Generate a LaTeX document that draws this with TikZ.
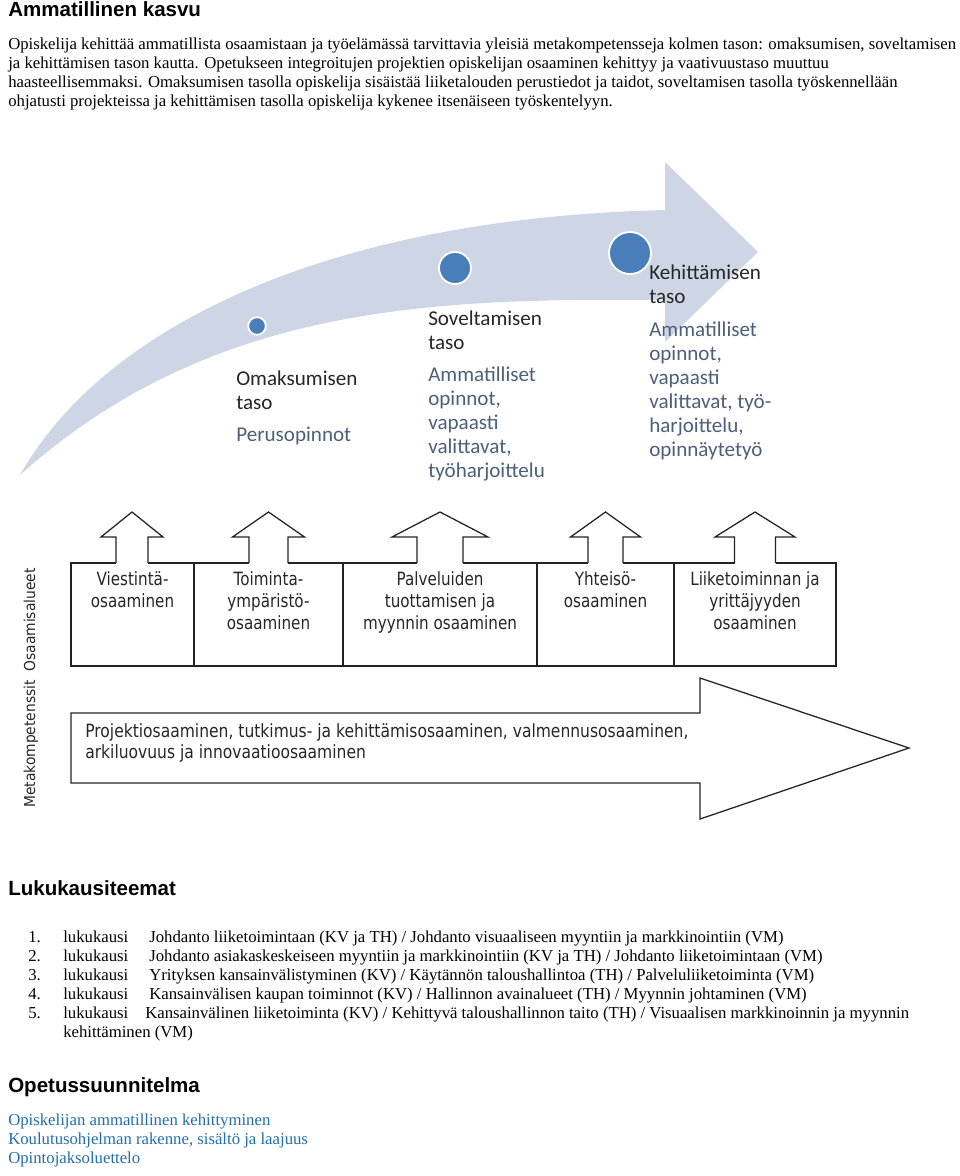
\documentclass[tikz,border=0pt]{standalone}
\usepackage{fontspec}
\setmainfont{Liberation Serif}
\newfontfamily\headfont{Liberation Sans}
\newfontfamily\calfont{Carlito}
\newfontfamily\boxfont{DejaVu Sans}[FakeStretch=0.83]
\newfontfamily\metafont{DejaVu Sans}[FakeStretch=0.85]
\newfontfamily\sidefont{DejaVu Sans}[FakeStretch=0.92]
\definecolor{arrowfill}{RGB}{206,214,230}
\definecolor{dotblue}{RGB}{74,126,187}
\definecolor{titlegray}{RGB}{38,38,38}
\definecolor{subgray}{RGB}{78,95,122}
\definecolor{linkblue}{RGB}{35,110,170}
\definecolor{linegray}{RGB}{35,35,35}

\tikzset{
  body/.style={anchor=base west, inner sep=0pt, font=\fontsize{11.9}{13.5}\selectfont},
  head/.style={anchor=base west, inner sep=0pt, font=\headfont\bfseries\fontsize{14.6}{17}\selectfont},
  link/.style={body, text=linkblue},
  lvl/.style={anchor=north west, inner sep=0pt, align=left, text=titlegray,
    font=\calfont\fontsize{15}{17.07}\selectfont},
  lvlsub/.style={lvl, text=subgray},
  dot/.style={circle, fill=dotblue, draw=white, line width=1.3pt, inner sep=0pt},
  area/.style={anchor=north, inner sep=0pt, align=center, text=titlegray,
    font=\boxfont\fontsize{13}{15.6}\selectfont},
  outline/.style={draw=linegray, line width=0.9pt, line join=miter},
}

\begin{document}
\begin{tikzpicture}[x=0.25mm, y=-0.25mm]
    \useasboundingbox (0,0) rectangle (960,1176);

    \node [head] (h1) at (8,16) {Ammatillinen kasvu};
    \node [body] (p1) at (8,49) {Opiskelija kehittää ammatillista osaamistaan ja työelämässä tarvittavia yleisiä metakompetensseja kolmen tason: omaksumisen, soveltamisen};
    \node [body] (p2) at (8,68) {ja kehittämisen tason kautta. Opetukseen integroitujen projektien opiskelijan osaaminen kehittyy ja vaativuustaso muuttuu};
    \node [body] (p3) at (8,87) {haasteellisemmaksi. Omaksumisen tasolla opiskelija sisäistää liiketalouden perustiedot ja taidot, soveltamisen tasolla työskennellään};
    \node [body] (p4) at (8,106) {ohjatusti projekteissa ja kehittämisen tasolla opiskelija kykenee itsenäiseen työskentelyyn.};

    \fill [arrowfill] (20,475) .. controls (105,325) and (330,218) .. (665,210)
      -- (665,162) -- (758,252) -- (665,342) -- (665,300)
      .. controls (430,298) and (210,305) .. (20,475) -- cycle;
    \node [dot, minimum size=4.4mm] (d1) at (257,326) {};
    \node [dot, minimum size=8mm] (d2) at (455,268) {};
    \node [dot, minimum size=10.5mm] (d3) at (630,253) {};

    \node [lvl] (t1) at (236,371) {Omaksumisen\\taso};
    \node [lvlsub] (s1) at (236,427) {Perusopinnot};
    \node [lvl] (t2) at (428,311) {Soveltamisen\\taso};
    \node [lvlsub] (s2) at (428,367) {Ammatilliset\\opinnot,\\vapaasti\\valittavat,\\työharjoittelu};
    \node [lvl] (t3) at (649,265) {Kehittämisen\\taso};
    \node [lvlsub] (s3) at (649,322) {Ammatilliset\\opinnot,\\vapaasti\\valittavat, työ-\\harjoittelu,\\opinnäytetyö};

    \foreach \c/\h/\s in {132/31/16, 268.5/36/19.5, 440/48/23, 605.5/35/17.5, 755/40/20.5}
      \draw [outline] (\c-\s,563) -- (\c-\s,537) -- (\c-\h,537) -- (\c,512)
        -- (\c+\h,537) -- (\c+\s,537) -- (\c+\s,563);
    \draw [outline] (116,563) -- (71,563) -- (71,666) -- (836,666) -- (836,563) -- (775.5,563);
    \draw [outline] (148,563) -- (249,563) (288,563) -- (417,563) (463,563) -- (588,563) (623,563) -- (734.5,563);
    \foreach \x in {194,343,537,674}
      \draw [outline] (\x,563) -- (\x,666);

    \node [area] (a1) at (132.5,571) {Viestintä-\\osaaminen};
    \node [area] (a2) at (268.5,571) {Toiminta-\\ympäristö-\\osaaminen};
    \node [area] (a3) at (440,571) {Palveluiden\\tuottamisen ja\\myynnin osaaminen};
    \node [area] (a4) at (605.5,571) {Yhteisö-\\osaaminen};
    \node [area] (a5) at (755,571) {Liiketoiminnan ja\\yrittäjyyden\\osaaminen};

    \draw [outline] (71,713) -- (700,713) -- (700,678) -- (909,748) -- (700,819) -- (700,783) -- (71,783) -- cycle;
    \node [area, anchor=north west, align=left, font=\metafont\fontsize{13}{15.2}\selectfont] (meta) at (85,723)
      {Projektiosaaminen, tutkimus- ja kehittämisosaaminen, valmennusosaaminen,\\arkiluovuus ja innovaatioosaaminen};

    \node [rotate=90, inner sep=0pt, text=titlegray, font=\sidefont\fontsize{10.7}{12}\selectfont] (side) at (31,688)
      {Metakompetenssit\ \ Osaamisalueet};

    \node [head] (h2) at (8,895) {Lukukausiteemat};
    \node [body] (n1) at (28,942) {1.};
    \node [body] (l1) at (63,942) {lukukausi};
    \node [body] (k1) at (149,942) {Johdanto liiketoimintaan (KV ja TH) / Johdanto visuaaliseen myyntiin ja markkinointiin (VM)};
    \node [body] (n2) at (28,961) {2.};
    \node [body] (l2) at (63,961) {lukukausi};
    \node [body] (k2) at (149,961) {Johdanto asiakaskeskeiseen myyntiin ja markkinointiin (KV ja TH) / Johdanto liiketoimintaan (VM)};
    \node [body] (n3) at (28,980) {3.};
    \node [body] (l3) at (63,980) {lukukausi};
    \node [body] (k3) at (149,980) {Yrityksen kansainvälistyminen (KV) / Käytännön taloushallintoa (TH) / Palveluliiketoiminta (VM)};
    \node [body] (n4) at (28,999) {4.};
    \node [body] (l4) at (63,999) {lukukausi};
    \node [body] (k4) at (149,999) {Kansainvälisen kaupan toiminnot (KV) / Hallinnon avainalueet (TH) / Myynnin johtaminen (VM)};
    \node [body] (n5) at (28,1018) {5.};
    \node [body] (l5) at (63,1018) {lukukausi};
    \node [body] (k5) at (145,1018) {Kansainvälinen liiketoiminta (KV) / Kehittyvä taloushallinnon taito (TH) / Visuaalisen markkinoinnin ja myynnin};
    \node [body] (k5b) at (63,1037) {kehittäminen (VM)};

    \node [head] (h3) at (8,1092) {Opetussuunnitelma};
    \node [link] (o1) at (8,1125) {Opiskelijan ammatillinen kehittyminen};
    \node [link] (o2) at (8,1144) {Koulutusohjelman rakenne, sisältö ja laajuus};
    \node [link] (o3) at (8,1163) {Opintojaksoluettelo};
  \end{tikzpicture}
\end{document}
